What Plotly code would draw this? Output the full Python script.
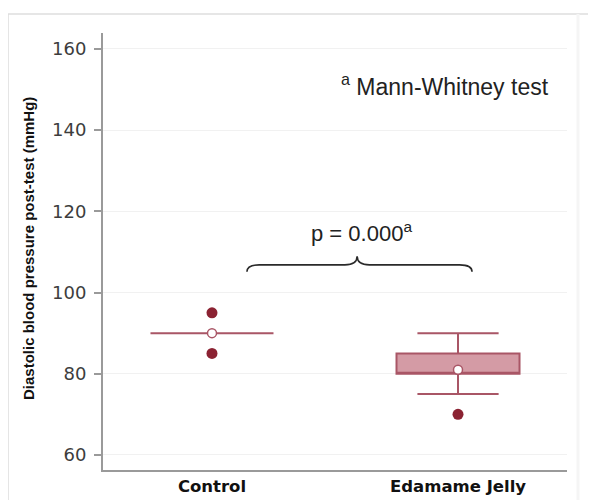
import plotly.graph_objects as go

categories = ["Control", "Edamame Jelly"]
cat_pos = [0, 1]
q1 = [90, 80]
median = [90, 80]
q3 = [90, 85]
lower_fence = [90, 75]
upper_fence = [90, 90]
means = [90, 81]
outliers = [[95, 85], [70]]

y_ticks = [60, 80, 100, 120, 140, 160]

box_fill = "#d49ba5"
box_line = "#a95666"
outlier_color = "#8b2232"

fig = go.Figure()

for i, name in enumerate(categories):
    fig.add_trace(go.Box(
        x=[cat_pos[i]], q1=[q1[i]], median=[median[i]], q3=[q3[i]],
        lowerfence=[lower_fence[i]], upperfence=[upper_fence[i]],
        width=0.5, whiskerwidth=0.66,
        fillcolor=box_fill, line=dict(color=box_line, width=2),
        boxpoints=False, showlegend=False, hoverinfo="skip", name=name,
    ))
    fig.add_trace(go.Scatter(
        x=[cat_pos[i]] * len(outliers[i]), y=outliers[i], mode="markers",
        marker=dict(color=outlier_color, size=11), showlegend=False,
    ))
    fig.add_trace(go.Scatter(
        x=[cat_pos[i]], y=[means[i]], mode="markers",
        marker=dict(color="white", size=9, line=dict(color=box_line, width=1.5)),
        showlegend=False,
    ))

# curly brace annotation
bx0, bx1, bmid = 0.142, 1.057, 0.59
by_end, by_bar, by_tip = 105.1, 106.8, 108.9
dx = 0.05
brace = (f"M {bx0},{by_end} Q {bx0},{by_bar} {bx0+dx},{by_bar} "
         f"L {bmid-dx},{by_bar} Q {bmid},{by_bar} {bmid},{by_tip} "
         f"Q {bmid},{by_bar} {bmid+dx},{by_bar} "
         f"L {bx1-dx},{by_bar} Q {bx1},{by_bar} {bx1},{by_end}")

shapes = [
    dict(type="path", path=brace, xref="x", yref="y",
         line=dict(color="#2a2a2a", width=1.6)),
    # outer frame
    dict(type="line", xref="paper", yref="paper", x0=-0.2047, x1=1.1, y0=1.0433, y1=1.0433,
         line=dict(color="#dedede", width=1.5)),
    dict(type="line", xref="paper", yref="paper", x0=-0.2047, x1=-0.2047, y0=1.0433, y1=-0.1,
         line=dict(color="#dedede", width=1.5)),
    dict(type="line", xref="paper", yref="paper", x0=1.0237, x1=1.0237, y0=1.0433, y1=-0.1,
         line=dict(color="#f5f5f5", width=3)),
]

annotations = [
    dict(x=0.606, y=114.9, xref="x", yref="y", text="p = 0.000<sup>a</sup>", showarrow=False,
         font=dict(family="Arial", size=22, color="#222222")),
    dict(x=0.947, y=151.2, xref="x", yref="y", text="<sup>a</sup> Mann-Whitney test", showarrow=False,
         font=dict(family="Arial", size=23, color="#222222")),
    dict(x=-0.1616, y=0.5057, xref="paper", yref="paper", textangle=-90,
         xanchor="center", yanchor="middle",
         text="<b>Diastolic blood pressure post-test (mmHg)</b>", showarrow=False,
         font=dict(family="Arial", size=15, color="#111111")),
]

fig.update_layout(
    width=596, height=500,
    margin=dict(l=95, r=37, t=25, b=28),
    paper_bgcolor="white", plot_bgcolor="white",
    shapes=shapes, annotations=annotations,
    xaxis=dict(range=[-0.443, 1.443], tickvals=cat_pos, ticktext=[f"<b>{c}</b>" for c in categories],
               showline=True, linecolor="#9a9a9a", linewidth=2, showgrid=False, zeroline=False,
               ticks="", tickfont=dict(family="DejaVu Sans", size=16.5, color="#111111")),
    yaxis=dict(range=[56.3, 163.9], tickvals=y_ticks, showline=True, linecolor="#9a9a9a", linewidth=2,
               ticks="outside", ticklen=7, tickcolor="#9a9a9a", tickwidth=1.5,
               ticklabelstandoff=4,
               showgrid=True, gridcolor="#f1f1f1", gridwidth=1, zeroline=False,
               tickfont=dict(family="DejaVu Sans", size=18, color="#3d3d3d")),
)

fig.write_html("out.html")
